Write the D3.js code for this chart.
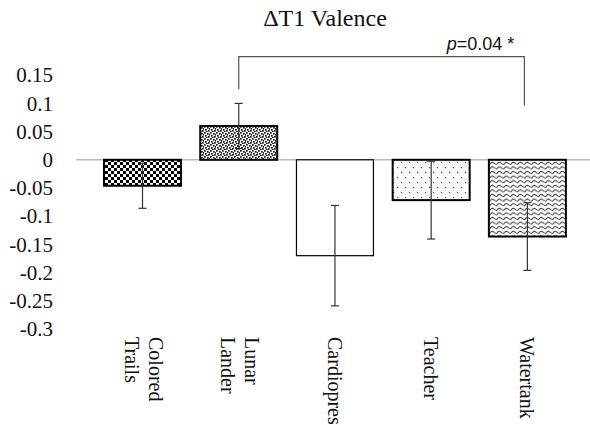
<!DOCTYPE html>
<html>
<head>
<meta charset="utf-8">
<script src="https://cdn.jsdelivr.net/npm/d3@7"></script>
<style>
  html, body { margin: 0; padding: 0; background: #fff; }
  svg { display: block; }
</style>
</head>
<body>
<svg id="chart" width="590" height="425"></svg>
<script>
// ΔT1 valence change per task, mean ± error
const categories = ["Colored Trails", "Lunar Lander", "Cardiopres", "Teacher", "Watertank"];
const categoryLines = [["Colored", "Trails"], ["Lunar", "Lander"], ["Cardiopres"], ["Teacher"], ["Watertank"]];
const means = [-0.046, 0.06, -0.17, -0.0715, -0.136];
const errors = [0.04, 0.04, 0.089, 0.069, 0.06];
const yTickValues = [0.15, 0.1, 0.05, 0, -0.05, -0.1, -0.15, -0.2, -0.25, -0.3];
const yTickLabels = ["0.15", "0.1", "0.05", "0", "-0.05", "-0.1", "-0.15", "-0.2", "-0.25", "-0.3"];
const comparisonPair = ["Lunar Lander", "Watertank"];
const comparisonLabel = "p=0.04 *";
const chartTitle = "\u0394T1 Valence";

const serif = "'Liberation Serif', 'Times New Roman', serif";
const sans = "'Liberation Sans', Arial, sans-serif";

const svg = d3.select("#chart");
const defs = svg.append("defs");

// fill patterns, one per task
const checker = defs.append("pattern").attr("id", "pat-checker")
  .attr("patternUnits", "userSpaceOnUse").attr("width", 6).attr("height", 6);
checker.append("rect").attr("width", 6).attr("height", 6).attr("fill", "#fff");
checker.append("rect").attr("x", 0).attr("y", 0).attr("width", 3).attr("height", 3).attr("fill", "#000");
checker.append("rect").attr("x", 3).attr("y", 3).attr("width", 3).attr("height", 3).attr("fill", "#000");

const stipple = defs.append("pattern").attr("id", "pat-stipple")
  .attr("patternUnits", "userSpaceOnUse").attr("width", 6).attr("height", 6);
stipple.append("rect").attr("width", 6).attr("height", 6).attr("fill", "#fff");
[[0, 0], [3, 1], [1, 3], [4, 4], [2, 5], [5, 2]].forEach(([px, py]) => {
  stipple.append("rect").attr("x", px).attr("y", py).attr("width", 1.7).attr("height", 1.7).attr("fill", "#111");
});

const sparse = defs.append("pattern").attr("id", "pat-sparse")
  .attr("patternUnits", "userSpaceOnUse").attr("width", 8).attr("height", 10);
sparse.append("rect").attr("width", 8).attr("height", 10).attr("fill", "#fff");
sparse.append("rect").attr("x", 1).attr("y", 2).attr("width", 1.2).attr("height", 1.2).attr("fill", "#555");
sparse.append("rect").attr("x", 5).attr("y", 7).attr("width", 1.2).attr("height", 1.2).attr("fill", "#555");

const wave = defs.append("pattern").attr("id", "pat-wave")
  .attr("patternUnits", "userSpaceOnUse").attr("width", 7).attr("height", 4.6);
wave.append("rect").attr("width", 7).attr("height", 4.6).attr("fill", "#fff");
wave.append("path").attr("d", "M0,3.3 Q1.75,0.3 3.5,1.8 T7,3.3")
  .attr("fill", "none").attr("stroke", "#333").attr("stroke-width", 1);

const fills = ["url(#pat-checker)", "url(#pat-stipple)", "#fff", "url(#pat-sparse)", "url(#pat-wave)"];
const strokeWidths = [2, 2, 1.2, 2, 2];

// scales
const x = d3.scaleBand().domain(categories).range([94.4, 575.5]).paddingInner(0.2).paddingOuter(0.1);
const y = d3.scaleLinear().domain([-0.3, 0.15]).range([329, 75.2]);

// title
svg.append("text")
  .attr("x", 325).attr("y", 26)
  .attr("text-anchor", "middle")
  .style("font-family", serif)
  .style("font-size", "24px")
  .attr("fill", "#111")
  .text(chartTitle);

// y axis labels
const yAxis = d3.axisLeft(y).tickValues(yTickValues)
  .tickFormat((d, i) => yTickLabels[i]).tickSize(0).tickPadding(23);
const yg = svg.append("g").attr("transform", "translate(76,0)").call(yAxis);
yg.select(".domain").remove();
yg.selectAll("text")
  .style("font-family", serif)
  .style("font-size", "21px")
  .attr("fill", "#111");

// zero line
svg.append("line")
  .attr("x1", 76).attr("x2", 590)
  .attr("y1", y(0)).attr("y2", y(0))
  .attr("stroke", "#bbb").attr("stroke-width", 1.5);

// bars
svg.append("g").selectAll("rect")
  .data(categories)
  .join("rect")
  .attr("x", d => x(d))
  .attr("width", x.bandwidth())
  .attr("y", (d, i) => y(Math.max(0, means[i])))
  .attr("height", (d, i) => Math.abs(y(means[i]) - y(0)))
  .attr("fill", (d, i) => fills[i])
  .attr("stroke", "#000")
  .attr("stroke-width", (d, i) => strokeWidths[i]);

// error bars
const eb = svg.append("g").attr("stroke", "#333").attr("stroke-width", 1.2);
categories.forEach((c, i) => {
  const cx = x(c) + x.bandwidth() / 2;
  const lo = y(means[i] - errors[i]);
  const hi = y(means[i] + errors[i]);
  eb.append("line").attr("x1", cx).attr("x2", cx).attr("y1", hi).attr("y2", lo);
  eb.append("line").attr("x1", cx - 4).attr("x2", cx + 4).attr("y1", hi).attr("y2", hi);
  eb.append("line").attr("x1", cx - 4).attr("x2", cx + 4).attr("y1", lo).attr("y2", lo);
});

// category labels, rotated to read downward
categories.forEach((c, i) => {
  const cx = x(c) + x.bandwidth() / 2;
  const lines = categoryLines[i];
  const t = svg.append("text")
    .attr("transform", `translate(${cx + (lines.length > 1 ? 1.5 : 0)},337) rotate(90)`)
    .attr("text-anchor", "start")
    .style("font-family", serif)
    .style("font-size", "20px")
    .attr("fill", "#111");
  const off = (lines.length - 1) * 0.6;
  lines.forEach((ln, j) => {
    t.append("tspan").attr("x", 0)
      .attr("dy", j === 0 ? `${0.35 - off}em` : "1.2em")
      .text(ln);
  });
});

// significance bracket
const xa = x(comparisonPair[0]) + x.bandwidth() / 2;
const xb = x(comparisonPair[1]) + x.bandwidth() / 2 - 3;
const yTop = y(0.183);
svg.append("path")
  .attr("d", `M${xa},${y(0.125)} V${yTop} H${xb} V${y(0.096)}`)
  .attr("fill", "none").attr("stroke", "#555").attr("stroke-width", 1.2);
const sig = svg.append("text")
  .attr("x", xb - 10).attr("y", yTop - 7)
  .attr("text-anchor", "end")
  .style("font-family", sans)
  .style("font-size", "18px")
  .attr("fill", "#111");
sig.append("tspan").attr("font-style", "italic").text(comparisonLabel.slice(0, 1));
sig.append("tspan").text(comparisonLabel.slice(1));
</script>
</body>
</html>
